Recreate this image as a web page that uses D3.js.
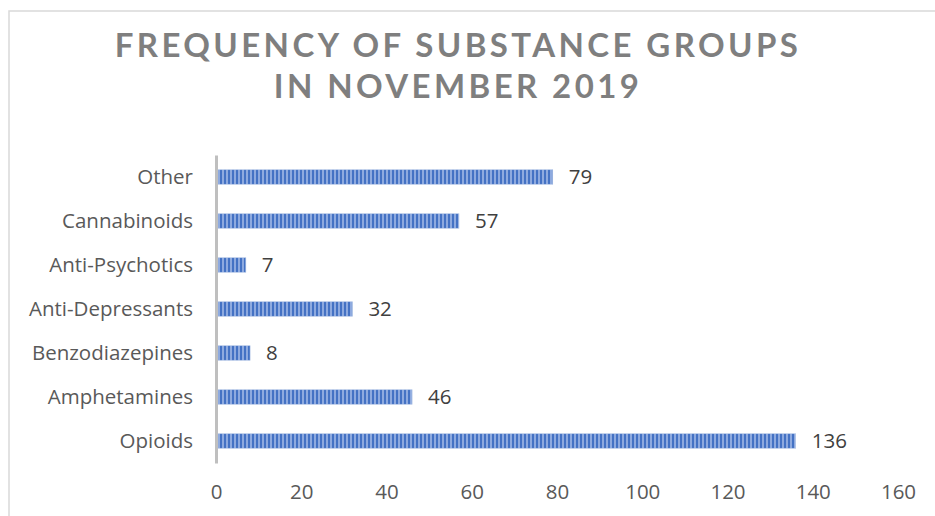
<!DOCTYPE html>
<meta charset="utf-8">
<style>
    body { margin: 0; background: #fff; }
    text { font-family: "Open Sans", Lato, sans-serif; }
</style>
<body>
<script src="https://cdnjs.cloudflare.com/ajax/libs/d3/7.8.5/d3.min.js"></script>
<script>
    var categories = ["Opioids", "Amphetamines", "Benzodiazepines", "Anti-Depressants",
                      "Anti-Psychotics", "Cannabinoids", "Other"];
    var counts = [136, 46, 8, 32, 7, 57, 79];
    var xTicks = [0, 20, 40, 60, 80, 100, 120, 140, 160];
    var titleLines = ["FREQUENCY OF SUBSTANCE GROUPS", "IN NOVEMBER 2019"];

    var width = 935,
        height = 516;

    var svg = d3.select("body").append("svg")
        .attr("width", width)
        .attr("height", height);

    // stripe fill like the Excel pattern
    var pat = svg.append("defs").append("pattern")
        .attr("id", "stripes")
        .attr("patternUnits", "userSpaceOnUse")
        .attr("width", 4)
        .attr("height", 10);
    pat.append("rect").attr("width", 4).attr("height", 10).attr("fill", "#8eaadf");
    pat.append("rect").attr("width", 2).attr("height", 10).attr("fill", "#4472c4");

    // chart frame
    svg.append("rect")
        .attr("x", 9).attr("y", 11)
        .attr("width", 940).attr("height", 520)
        .attr("fill", "none")
        .attr("stroke", "#d9d9d9")
        .attr("stroke-width", 1.5);

    svg.append("g").selectAll("text")
        .data(titleLines)
        .enter().append("text")
        .attr("x", 458)
        .attr("y", (d, i) => 57 + i * 41)
        .attr("text-anchor", "middle")
        .attr("fill", "#7f7f7f")
        .style("font-family", "Lato, sans-serif")
        .style("font-size", "33px")
        .style("font-weight", "bold")
        .style("letter-spacing", "3.4px")
        .text(d => d);

    var x = d3.scaleLinear().domain([0, 160]).range([216, 898]);
    var y = d3.scaleBand().domain(categories.slice().reverse()).range([155, 463]).paddingInner(0.67).paddingOuter(0.335);

    // value axis (labels only)
    var xAxis = svg.append("g")
        .attr("transform", "translate(0,484)")
        .call(d3.axisBottom(x).tickValues(xTicks).tickSize(0).tickPadding(0));
    xAxis.select(".domain").remove();
    xAxis.selectAll("text")
        .attr("fill", "#595959")
        .style("font-size", "20.5px")
        .attr("dy", "0.72em");

    var rows = categories.map((c, i) => ({ name: c, value: counts[i] }));

    svg.append("g").selectAll("rect")
        .data(rows)
        .enter().append("rect")
        .attr("x", x(0) + 1)
        .attr("y", d => y(d.name))
        .attr("width", d => x(d.value) - x(0) - 1)
        .attr("height", y.bandwidth())
        .attr("fill", "url(#stripes)")
        .attr("stroke", "#b4c7e7")
        .attr("stroke-width", 0.6);

    // category axis
    var yAxis = svg.append("g")
        .attr("transform", "translate(" + x(0) + ",0)")
        .call(d3.axisLeft(y).tickSize(0).tickPadding(23));
    yAxis.select(".domain")
        .attr("stroke", "#bfbfbf")
        .attr("stroke-width", 3);
    yAxis.selectAll("text")
        .attr("fill", "#595959")
        .style("font-size", "20.5px");

    svg.append("g").selectAll("text")
        .data(rows)
        .enter().append("text")
        .attr("x", d => x(d.value) + 16)
        .attr("y", d => y(d.name) + y.bandwidth() / 2)
        .attr("dy", "0.35em")
        .attr("fill", "#404040")
        .style("font-size", "20.5px")
        .text(d => d.value);
</script>
</body>
